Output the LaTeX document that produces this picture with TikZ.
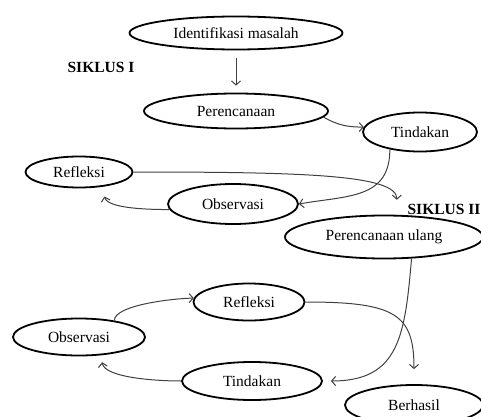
\documentclass[tikz,border=0pt]{standalone}
\usepackage{fontspec}
\setmainfont{Liberation Serif}
\usetikzlibrary{shapes.geometric, arrows.meta}
\tikzset{
  font=\fontsize{15.5}{18}\selectfont,
  >={Straight Barb[length=4pt,width=9pt]},
  stage/.style={draw, ellipse, line width=1.8pt, inner sep=0pt},
  cyclelabel/.style={font=\fontsize{15.5}{18}\selectfont\bfseries},
  flow/.style={->, draw=black!75, line width=1pt}
}

\begin{document}
\begin{tikzpicture}[x=1pt, y=1pt]
    \clip (0,0) rectangle (481,416);
    % siklus I
    \node[stage, minimum width=213pt, minimum height=33pt] (problem) at (236,383) {Identifikasi masalah};
    \node[cyclelabel] (cycle1) at (101,349) {SIKLUS I};
    \node[stage, minimum width=184pt, minimum height=35pt] (plan1) at (236,305) {Perencanaan};
    \node[stage, minimum width=114pt, minimum height=39pt] (action1) at (420,284) {Tindakan};
    \node[stage, minimum width=107pt, minimum height=31pt] (reflection1) at (79,244) {Refleksi};
    \node[stage, minimum width=130pt, minimum height=40pt] (observation1) at (233,212) {Observasi};
    % siklus II
    \node[cyclelabel] (cycle2) at (444,207) {SIKLUS II};
    \node[stage, minimum width=198pt, minimum height=43pt] (replan) at (384,179) {Perencanaan ulang};
    \node[stage, minimum width=111pt, minimum height=37pt] (reflection2) at (249,114) {Refleksi};
    \node[stage, minimum width=132pt, minimum height=37pt] (observation2) at (79,79) {Observasi};
    \node[stage, minimum width=140pt, minimum height=38pt] (action2) at (252,35) {Tindakan};
    \node[stage, minimum width=138pt, minimum height=40pt] (success) at (414,11) {Berhasil};

    \draw[flow, shorten <=8pt, shorten >=7pt] (problem) -- (plan1);
    \draw[flow] (plan1.-4) to[out=-30, in=180] (action1.175);
    \draw[flow] (action1.-150) to[out=-90, in=10, looseness=1.2] (observation1.east);
    \draw[flow, shorten >=10pt] (observation1.185) to[out=180, in=-75, looseness=0.8] (reflection1.-33);
    \draw[flow, shorten >=15pt] (reflection1.east) .. controls +(170,0) and +(0,40) .. (replan.60);
    \draw[flow, shorten >=8pt] (replan.-38) to[out=-95, in=0, looseness=1.3] (action2.east);
    \draw[flow, shorten >=15pt] (reflection2.east) .. controls +(90,0) and +(0,70) .. (success.north);
    \draw[flow] (observation2.25) to[out=90, in=180, looseness=0.5] (reflection2.176);
    \draw[flow, shorten >=7pt] (action2.west) to[out=180, in=-80, looseness=0.7] (observation2.-40);
\end{tikzpicture}
\end{document}
